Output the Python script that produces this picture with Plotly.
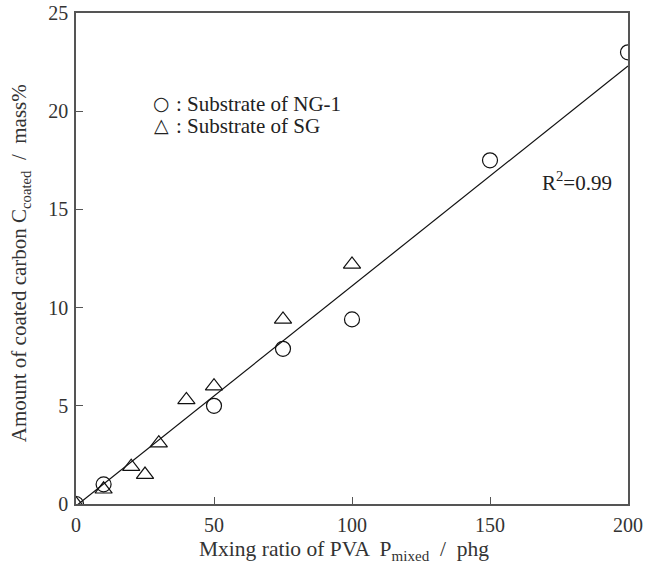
import plotly.graph_objects as go

# NG-1 substrate (circles)
ng_x = [0, 10, 50, 75, 100, 150, 200]
ng_y = [0.0, 1.0, 5.0, 7.9, 9.4, 17.5, 23.0]
# SG substrate (triangles)
sg_x = [0, 10, 20, 25, 30, 40, 50, 75, 100]
sg_y = [0.0, 0.75, 1.9, 1.5, 3.1, 5.3, 6.0, 9.4, 12.2]
# regression line
fit_x = [0, 200]
fit_y = [-0.1, 22.3]

x_ticks = [0, 50, 100, 150, 200]
y_ticks = [0, 5, 10, 15, 20, 25]

FONT = "Liberation Serif"
fig = go.Figure()
fig.add_trace(go.Scatter(x=fit_x, y=fit_y, mode="lines",
                         line=dict(color="#111", width=1.2), showlegend=False))
fig.add_trace(go.Scatter(x=ng_x, y=ng_y, mode="markers",
                         marker=dict(symbol="circle-open", size=15, color="#111",
                                     line=dict(width=1.2)), showlegend=False))
fig.add_trace(go.Scatter(x=sg_x, y=sg_y, mode="markers",
                         marker=dict(symbol="triangle-up-open", size=15, color="#111",
                                     line=dict(width=1.2)), showlegend=False))

axis_common = dict(showgrid=False, zeroline=False, showline=True, linecolor="#555",
                   linewidth=1.5, mirror=True, ticks="inside", ticklen=7,
                   tickcolor="#555", automargin=False, ticklabeloverflow="allow",
                   tickfont=dict(family=FONT, size=20, color="#333"))
fig.update_xaxes(range=[0, 200], tickvals=x_ticks, **axis_common, ticklabelstandoff=2)
fig.update_yaxes(range=[0, 25], tickvals=y_ticks, **axis_common, ticklabelstandoff=2)

# axis titles
fig.add_annotation(x=0.485, y=-0.094, xref="paper", yref="paper", xanchor="center",
                   yanchor="middle", text="Mxing ratio of PVA  P<sub>mixed</sub>  /  phg",
                   showarrow=False, font=dict(family=FONT, size=21.5, color="#333"))
fig.add_annotation(x=-0.1, y=0.49, xref="paper", yref="paper", xanchor="center",
                   yanchor="middle", textangle=-90,
                   text="Amount of coated carbon C<sub>coated</sub>  /  mass%",
                   showarrow=False, font=dict(family=FONT, size=21, color="#333"))

# legend-like labels
fig.add_annotation(x=0.155, y=0.843, xref="paper", yref="paper", xanchor="center",
                   text="○", showarrow=False,
                   font=dict(family="DejaVu Sans", size=19, color="#222"))
fig.add_annotation(x=0.178, y=0.843, xref="paper", yref="paper", xanchor="left",
                   text=": Substrate of NG-1", showarrow=False,
                   font=dict(family=FONT, size=21, color="#222"))
fig.add_annotation(x=0.155, y=0.798, xref="paper", yref="paper", xanchor="center",
                   text="△", showarrow=False,
                   font=dict(family="DejaVu Sans", size=19, color="#222"))
fig.add_annotation(x=0.178, y=0.798, xref="paper", yref="paper", xanchor="left",
                   text=": Substrate of SG", showarrow=False,
                   font=dict(family=FONT, size=21, color="#222"))
fig.add_annotation(x=0.84, y=0.656, xref="paper", yref="paper", xanchor="left",
                   text="R<sup>2</sup>=0.99", showarrow=False,
                   font=dict(family=FONT, size=21, color="#222"))

fig.update_layout(width=646, height=569, plot_bgcolor="white", paper_bgcolor="white",
                  margin=dict(l=76, r=18, t=13, b=65))
fig.write_html("out.html", config={"displayModeBar": False},
               post_script="document.body.style.margin='0';")
